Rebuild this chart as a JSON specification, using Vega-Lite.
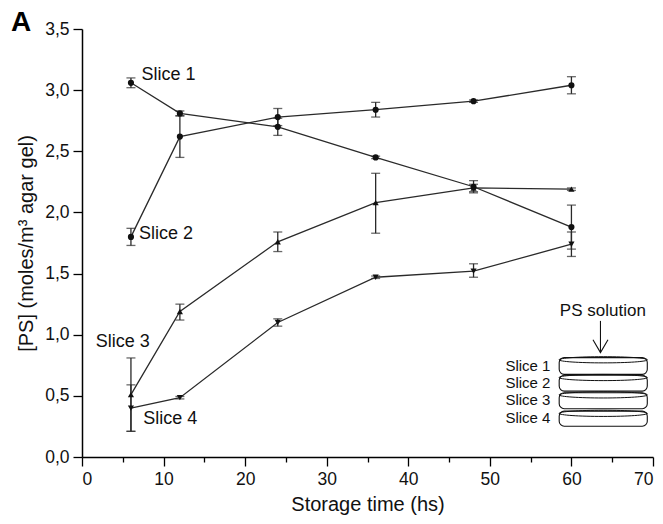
{
  "$schema": "https://vega.github.io/schema/vega-lite/v6.json",
  "width": 571,
  "height": 428,
  "autosize": {"type": "none"},
  "padding": {"left": 82, "top": 29, "right": 10, "bottom": 67},
  "background": "white",
  "title": {
    "text": "A",
    "anchor": "start",
    "frame": "group",
    "font": "Liberation Sans",
    "fontSize": 28,
    "fontWeight": "bold",
    "color": "#000",
    "dx": -71,
    "dy": 21
  },
  "config": {
    "view": {"stroke": null},
    "axis": {
      "grid": false,
      "domainColor": "#000",
      "domainWidth": 1.5,
      "tickColor": "#000",
      "tickWidth": 1.3,
      "labelFont": "Liberation Sans",
      "labelFontSize": 17.5,
      "labelColor": "#111",
      "titleFont": "Liberation Sans",
      "titleFontSize": 20,
      "titleFontWeight": "normal",
      "titleColor": "#111",
      "labelOverlap": false
    }
  },
  "datasets": {
    "series": [
      {"series": "Slice 1", "x": 6, "y": 3.06, "lo": 3.02, "hi": 3.10},
      {"series": "Slice 1", "x": 12, "y": 2.81, "lo": 2.79, "hi": 2.83},
      {"series": "Slice 1", "x": 24, "y": 2.70, "lo": 2.63, "hi": 2.77},
      {"series": "Slice 1", "x": 36, "y": 2.45, "lo": 2.44, "hi": 2.46},
      {"series": "Slice 1", "x": 48, "y": 2.21, "lo": 2.16, "hi": 2.26},
      {"series": "Slice 1", "x": 60, "y": 1.88, "lo": 1.70, "hi": 2.06},
      {"series": "Slice 2", "x": 6, "y": 1.80, "lo": 1.73, "hi": 1.87},
      {"series": "Slice 2", "x": 12, "y": 2.62, "lo": 2.45, "hi": 2.79},
      {"series": "Slice 2", "x": 24, "y": 2.78, "lo": 2.71, "hi": 2.85},
      {"series": "Slice 2", "x": 36, "y": 2.84, "lo": 2.78, "hi": 2.90},
      {"series": "Slice 2", "x": 48, "y": 2.91, "lo": 2.90, "hi": 2.92},
      {"series": "Slice 2", "x": 60, "y": 3.04, "lo": 2.97, "hi": 3.11},
      {"series": "Slice 3", "x": 6, "y": 0.51, "lo": 0.21, "hi": 0.81},
      {"series": "Slice 3", "x": 12, "y": 1.19, "lo": 1.12, "hi": 1.25},
      {"series": "Slice 3", "x": 24, "y": 1.76, "lo": 1.68, "hi": 1.84},
      {"series": "Slice 3", "x": 36, "y": 2.08, "lo": 1.83, "hi": 2.32},
      {"series": "Slice 3", "x": 48, "y": 2.20, "lo": 2.17, "hi": 2.23},
      {"series": "Slice 3", "x": 60, "y": 2.19, "lo": 2.18, "hi": 2.20},
      {"series": "Slice 4", "x": 6, "y": 0.40, "lo": 0.21, "hi": 0.59},
      {"series": "Slice 4", "x": 12, "y": 0.485, "lo": 0.475, "hi": 0.495},
      {"series": "Slice 4", "x": 24, "y": 1.10, "lo": 1.07, "hi": 1.13},
      {"series": "Slice 4", "x": 36, "y": 1.47, "lo": 1.46, "hi": 1.48},
      {"series": "Slice 4", "x": 48, "y": 1.52, "lo": 1.47, "hi": 1.58},
      {"series": "Slice 4", "x": 60, "y": 1.74, "lo": 1.64, "hi": 1.84}
    ],
    "labels": [
      {"text": "Slice 1", "x": 7.3, "y": 3.12},
      {"text": "Slice 2", "x": 7.0, "y": 1.82},
      {"text": "Slice 3", "x": 1.68, "y": 0.94},
      {"text": "Slice 4", "x": 7.5, "y": 0.31}
    ],
    "disks": [
      {"disk": "Slice 1", "x": 58.5, "x2": 69.3, "y": 0.676, "y2": 0.813, "ytop": 0.795, "xc": 63.9, "ly": 0.744},
      {"disk": "Slice 2", "x": 58.5, "x2": 69.3, "y": 0.539, "y2": 0.668, "ytop": 0.650, "xc": 63.9, "ly": 0.602},
      {"disk": "Slice 3", "x": 58.5, "x2": 69.3, "y": 0.395, "y2": 0.526, "ytop": 0.508, "xc": 63.9, "ly": 0.463},
      {"disk": "Slice 4", "x": 58.5, "x2": 69.3, "y": 0.252, "y2": 0.375, "ytop": 0.357, "xc": 63.9, "ly": 0.321}
    ],
    "inset": [
      {"text": "PS solution", "x": 63.85, "y": 1.195, "ax": 63.56, "ay": 1.113, "ay2": 0.854}
    ]
  },
  "layer": [
    {
      "data": {"name": "series"},
      "mark": {"type": "line", "color": "#2a2a2a", "strokeWidth": 1.3},
      "encoding": {
        "x": {
          "field": "x", "type": "quantitative",
          "scale": {"domain": [0, 70], "nice": false},
          "axis": {
            "title": "Storage time (hs)",
            "values": [0, 5, 10, 15, 20, 25, 30, 35, 40, 45, 50, 55, 60, 65, 70],
            "labelExpr": "datum.value % 10 === 0 ? datum.label : ''",
            "tickSize": {"condition": {"test": "datum.value % 10 === 0", "value": 9}, "value": 5},
            "labelPadding": 4,
            "titlePadding": 7
          }
        },
        "y": {
          "field": "y", "type": "quantitative",
          "scale": {"domain": [0, 3.5], "nice": false},
          "axis": {
            "title": "[PS] (moles/m³ agar gel)",
            "values": [0, 0.25, 0.5, 0.75, 1, 1.25, 1.5, 1.75, 2, 2.25, 2.5, 2.75, 3, 3.25, 3.5],
            "labelExpr": "round(datum.value*100) % 50 === 0 ? replace(format(datum.value, '.1f'), '.', ',') : ''",
            "tickSize": {"condition": {"test": "round(datum.value*100) % 50 === 0", "value": 9}, "value": 5},
            "labelPadding": 4,
            "titlePadding": 8
          }
        },
        "detail": {"field": "series"},
        "order": {"field": "x"}
      }
    },
    {
      "data": {"name": "series"},
      "mark": {"type": "rule", "color": "#2a2a2a", "strokeWidth": 1.3},
      "encoding": {
        "x": {"field": "x", "type": "quantitative"},
        "y": {"field": "lo", "type": "quantitative"},
        "y2": {"field": "hi"}
      }
    },
    {
      "data": {"name": "series"},
      "mark": {"type": "tick", "orient": "horizontal", "color": "#2a2a2a", "size": 9, "thickness": 1.3},
      "encoding": {
        "x": {"field": "x", "type": "quantitative"},
        "y": {"field": "lo", "type": "quantitative"}
      }
    },
    {
      "data": {"name": "series"},
      "mark": {"type": "tick", "orient": "horizontal", "color": "#2a2a2a", "size": 9, "thickness": 1.3},
      "encoding": {
        "x": {"field": "x", "type": "quantitative"},
        "y": {"field": "hi", "type": "quantitative"}
      }
    },
    {
      "data": {"name": "series"},
      "mark": {"type": "point", "filled": true, "color": "#111", "size": 38, "opacity": 1},
      "encoding": {
        "x": {"field": "x", "type": "quantitative"},
        "y": {"field": "y", "type": "quantitative"},
        "shape": {
          "field": "series", "type": "nominal",
          "scale": {"domain": ["Slice 1", "Slice 2", "Slice 3", "Slice 4"], "range": ["circle", "circle", "triangle-up", "triangle-down"]},
          "legend": null
        }
      }
    },
    {
      "data": {"name": "labels"},
      "mark": {"type": "text", "align": "left", "baseline": "middle", "font": "Liberation Sans", "fontSize": 18, "color": "#111"},
      "encoding": {
        "x": {"field": "x", "type": "quantitative"},
        "y": {"field": "y", "type": "quantitative"},
        "text": {"field": "text"}
      }
    },
    {
      "data": {"name": "disks"},
      "mark": {"type": "rect", "fill": "white", "stroke": "#111", "strokeWidth": 1.1, "cornerRadius": 5},
      "encoding": {
        "x": {"field": "x", "type": "quantitative"},
        "x2": {"field": "x2"},
        "y": {"field": "y", "type": "quantitative"},
        "y2": {"field": "y2"}
      }
    },
    {
      "data": {"name": "disks"},
      "mark": {"type": "point", "shape": "M-1,0 C-1,-0.04 -0.55,-0.07 0,-0.07 C0.55,-0.07 1,-0.04 1,0 C1,0.04 0.55,0.07 0,0.07 C-0.55,0.07 -1,0.04 -1,0 Z", "size": 7800, "filled": false, "stroke": "#111", "strokeWidth": 1, "opacity": 1},
      "encoding": {
        "x": {"field": "xc", "type": "quantitative"},
        "y": {"field": "ytop", "type": "quantitative"}
      }
    },
    {
      "data": {"name": "disks"},
      "mark": {"type": "text", "align": "right", "baseline": "middle", "font": "Liberation Sans", "fontSize": 15, "color": "#111"},
      "encoding": {
        "x": {"datum": 57.43, "type": "quantitative"},
        "y": {"field": "ly", "type": "quantitative"},
        "text": {"field": "disk"}
      }
    },
    {
      "data": {"name": "inset"},
      "mark": {"type": "text", "align": "center", "baseline": "middle", "font": "Liberation Sans", "fontSize": 17, "color": "#111"},
      "encoding": {
        "x": {"field": "x", "type": "quantitative"},
        "y": {"field": "y", "type": "quantitative"},
        "text": {"field": "text"}
      }
    },
    {
      "data": {"name": "inset"},
      "mark": {"type": "rule", "color": "#111", "strokeWidth": 1.1},
      "encoding": {
        "x": {"field": "ax", "type": "quantitative"},
        "y": {"field": "ay", "type": "quantitative"},
        "y2": {"field": "ay2"}
      }
    },
    {
      "data": {"name": "inset"},
      "mark": {"type": "point", "shape": "M-1,-1.7 L0,0 L1,-1.7", "size": 225, "filled": false, "stroke": "#111", "strokeWidth": 1.1, "opacity": 1},
      "encoding": {
        "x": {"field": "ax", "type": "quantitative"},
        "y": {"field": "ay2", "type": "quantitative"}
      }
    }
  ]
}
